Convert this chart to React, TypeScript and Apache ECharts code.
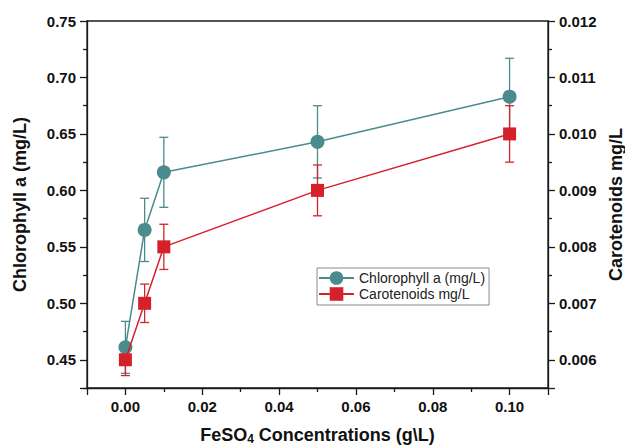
import React, { useEffect, useRef } from "react";
import * as echarts from "echarts";

const concentrations = [0, 0.005, 0.01, 0.05, 0.1];
const chlorophyll = [0.461, 0.565, 0.616, 0.643, 0.683];
const chlorophyllErr = [0.023, 0.028, 0.031, 0.032, 0.034];
const carotenoids = [0.006, 0.007, 0.008, 0.009, 0.01];
const carotenoidsErr = [0.00028, 0.00034, 0.0004, 0.00045, 0.0005];

const xTickLabels = ["0.00", "0.02", "0.04", "0.06", "0.08", "0.10"];
const yLeftTickLabels = ["0.45", "0.50", "0.55", "0.60", "0.65", "0.70", "0.75"];
const yRightTickLabels = ["0.006", "0.007", "0.008", "0.009", "0.010", "0.011", "0.012"];

const TEAL = "#4b8a8d";
const RED = "#d5222a";
const AXIS = "#1a1a1a";
const FONT = "'Liberation Sans', Arial, Helvetica, sans-serif";

function errorBars(color: string) {
  return (params: any, api: any) => {
    const x = api.value(0);
    const y = api.value(1);
    const e = api.value(2);
    const top = api.coord([x, y + e]);
    const bot = api.coord([x, y - e]);
    const half = 4.5;
    const style = { stroke: color, lineWidth: 1.3 };
    return {
      type: "group",
      children: [
        { type: "line", shape: { x1: top[0], y1: top[1], x2: bot[0], y2: bot[1] }, style },
        { type: "line", shape: { x1: top[0] - half, y1: top[1], x2: top[0] + half, y2: top[1] }, style },
        { type: "line", shape: { x1: bot[0] - half, y1: bot[1], x2: bot[0] + half, y2: bot[1] }, style },
      ],
    };
  };
}

const axisCommon = {
  axisLine: { show: true, onZero: false, lineStyle: { color: AXIS, width: 1.3 } },
  axisTick: { show: true, inside: false, length: 7, lineStyle: { color: AXIS, width: 1.3 } },
  minorTick: { show: true, splitNumber: 2, length: 4, lineStyle: { color: AXIS, width: 1.3 } },
  splitLine: { show: false },
  minorSplitLine: { show: false },
};

export default function App() {
  const ref = useRef<HTMLDivElement>(null);

  useEffect(() => {
    if (!ref.current) return;
    const chart = echarts.init(ref.current, undefined, { renderer: "svg" });
    const labelStyle = {
      fontFamily: FONT,
      fontWeight: "bold" as const,
      fontSize: 15,
      color: "#111",
    };
    chart.setOption({
      animation: false,
      backgroundColor: "#ffffff",
      grid: {
        left: 87,
        right: 77,
        top: 21,
        bottom: 60,
        show: true,
        borderColor: AXIS,
        borderWidth: 1.3,
        backgroundColor: "transparent",
        containLabel: false,
        outerBoundsMode: "none",
      },
      legend: {
        data: ["Chlorophyll a (mg/L)", "Carotenoids mg/L"],
        orient: "vertical",
        left: 317,
        top: 268,
        padding: [3, 4, 4, 1],
        itemWidth: 35,
        itemHeight: 17,
        itemGap: 2,
        borderColor: "#8a8a8a",
        borderWidth: 1,
        backgroundColor: "#fff",
        textStyle: { fontFamily: FONT, fontSize: 14, color: "#222" },
      },
      xAxis: {
        type: "value",
        min: -0.01,
        max: 0.11,
        ...axisCommon,
        axisLabel: {
          ...labelStyle,
          margin: 11,
          formatter: (v: number) => {
            const s = v.toFixed(2);
            return xTickLabels.includes(s) ? s : "";
          },
        },
        name: "{a|FeSO}{s|4}{a| Concentrations (g\\L)}",
        nameLocation: "middle",
        nameGap: 37,
        nameTextStyle: {
          rich: {
            a: { fontFamily: FONT, fontWeight: "bold", fontSize: 18, lineHeight: 20, color: "#111" },
            s: { fontFamily: FONT, fontWeight: "bold", fontSize: 12, lineHeight: 10, color: "#111", verticalAlign: "bottom" },
          },
        },
      },
      yAxis: [
        {
          type: "value",
          position: "left",
          min: 0.425,
          max: 0.75,
          ...axisCommon,
          axisLabel: {
            ...labelStyle,
            margin: 11,
            formatter: (v: number) => {
              const s = v.toFixed(2);
              return yLeftTickLabels.includes(s) && Math.abs(v - Number(s)) < 1e-6 ? s : "";
            },
          },
          name: "Chlorophyll a (mg/L)",
          nameLocation: "middle",
          nameGap: 58,
          nameTextStyle: { fontFamily: FONT, fontWeight: "bold", fontSize: 18, color: "#111" },
        },
        {
          type: "value",
          position: "right",
          min: 0.0055,
          max: 0.012,
          ...axisCommon,
          axisLabel: {
            ...labelStyle,
            margin: 11,
            formatter: (v: number) => {
              const s = v.toFixed(3);
              return yRightTickLabels.includes(s) && Math.abs(v - Number(s)) < 1e-7 ? s : "";
            },
          },
          name: "Carotenoids mg/L",
          nameLocation: "middle",
          nameGap: 56,
          nameTextStyle: { fontFamily: FONT, fontWeight: "bold", fontSize: 18, color: "#111" },
        },
      ],
      series: [
        {
          name: "chl-err",
          type: "custom",
          yAxisIndex: 0,
          z: 1,
          renderItem: errorBars(TEAL),
          encode: { x: 0, y: 1 },
          data: concentrations.map((c, i) => [c, chlorophyll[i], chlorophyllErr[i]]),
        },
        {
          name: "car-err",
          type: "custom",
          yAxisIndex: 1,
          z: 1,
          renderItem: errorBars(RED),
          encode: { x: 0, y: 1 },
          data: concentrations.map((c, i) => [c, carotenoids[i], carotenoidsErr[i]]),
        },
        {
          name: "Chlorophyll a (mg/L)",
          type: "line",
          yAxisIndex: 0,
          z: 3,
          symbol: "circle",
          symbolSize: 14,
          itemStyle: { color: TEAL },
          lineStyle: { color: TEAL, width: 1.5 },
          data: concentrations.map((c, i) => [c, chlorophyll[i]]),
        },
        {
          name: "Carotenoids mg/L",
          type: "line",
          yAxisIndex: 1,
          z: 4,
          symbol: "rect",
          symbolSize: 13,
          itemStyle: { color: RED },
          lineStyle: { color: RED, width: 1.5 },
          data: concentrations.map((c, i) => [c, carotenoids[i]]),
        },
      ],
    });
    return () => chart.dispose();
  }, []);

  return (
    <div
      ref={ref}
      style={{ position: "absolute", left: 0, top: 0, width: 625, height: 448, background: "#fff" }}
    />
  );
}
